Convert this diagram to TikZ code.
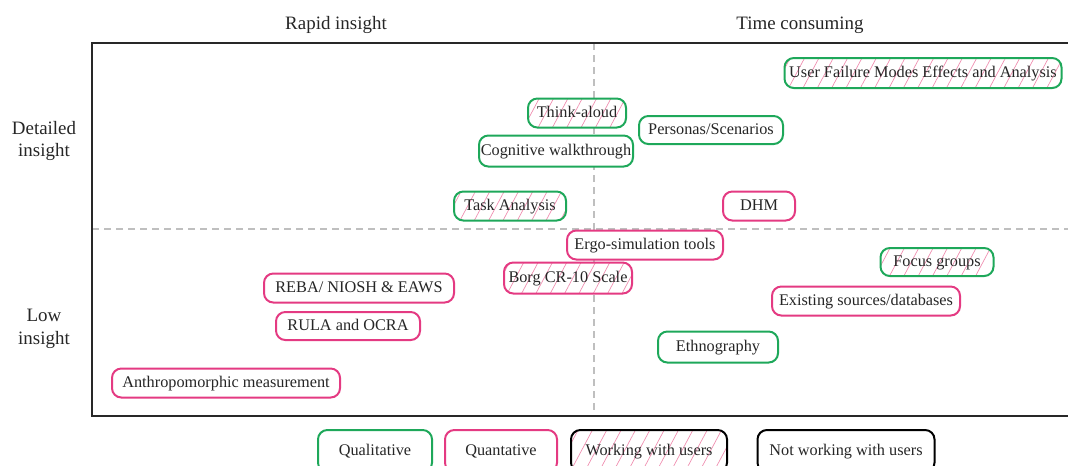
\documentclass[tikz,border=0pt]{standalone}
\usepackage{fontspec}
\setmainfont{Liberation Serif}
\usetikzlibrary{patterns.meta}
\definecolor{qgreen}{RGB}{30,168,90}
\definecolor{qpink}{RGB}{228,58,130}
\definecolor{hpink}{RGB}{240,140,175}
\definecolor{frame}{RGB}{40,40,40}
\begin{document}
\begin{tikzpicture}[x=0.75pt,y=-0.75pt,
  box/.style={draw, fill=white, line width=1.5pt, rounded corners=7pt, inner sep=0pt,
    font=\fontsize{12.2}{14}\selectfont, text=black!85, text height=8.5pt, text depth=2pt},
  sz/.style 2 args={minimum width=#1*0.75pt, minimum height=#2*0.75pt},
  qual/.style={box, draw=qgreen},
  quan/.style={box, draw=qpink},
  plain/.style={box, draw=black},
  hatch/.style={preaction={fill=white}, pattern={Lines[angle=62,distance=9.5pt,line width=0.5pt]}, pattern color=hpink},
  hdr/.style={font=\fontsize{14.2}{17}\selectfont, align=center, text=black!85},
  grid/.style={draw=black!25, dashed, line width=0.8pt, dash pattern=on 5pt off 4pt}
]
\clip (0,0) rectangle (1068,465);
% axes
\coordinate (tl) at (92,43);
\coordinate (bl) at (92,416);
\coordinate (tr) at (1075,43);
\coordinate (br) at (1075,416);
\coordinate (vt) at (594,43);
\coordinate (vb) at (594,416);
\coordinate (hl) at (92,229);
\coordinate (hr) at (1075,229);
\draw[grid] (vt) -- (vb);
\draw[grid] (hl) -- (hr);
\draw[frame, line width=1.6pt] (tr) -- (tl) -- (bl) -- (br);
% headers
\node[hdr] (rapid) at (336,25) {Rapid insight};
\node[hdr] (time) at (800,25) {Time consuming};
\node[hdr] (det) at (44,141) {Detailed\\insight};
\node[hdr] (low) at (44,329) {Low\\insight};
% methods
\node[qual, hatch, sz={277}{30}] (ufmea) at (923,73) {User Failure Modes Effects and Analysis};
\node[qual, hatch, sz={98}{29}] (think) at (577,113) {Think-aloud};
\node[qual, sz={144}{28}] (pers) at (711,130) {Personas/Scenarios};
\node[qual, sz={154}{31}] (cog) at (556,151) {Cognitive walkthrough};
\node[qual, hatch, sz={112}{29}] (task) at (510,206) {Task Analysis};
\node[quan, sz={72}{29}] (dhm) at (759,206) {DHM};
\node[quan, sz={156}{29}] (ergo) at (645,245) {Ergo-simulation tools};
\node[quan, hatch, sz={128}{31}] (borg) at (568,278) {Borg CR-10 Scale};
\node[qual, hatch, sz={113}{28}] (focus) at (937,262) {Focus groups};
\node[quan, sz={190}{29}] (reba) at (359,288) {REBA/ NIOSH \& EAWS};
\node[quan, sz={188}{29}] (exist) at (866,301) {Existing sources/databases};
\node[quan, sz={144}{28}] (rula) at (348,326) {RULA and OCRA};
\node[qual, sz={120}{31}] (ethno) at (718,347) {Ethnography};
\node[quan, sz={228}{29}] (anthro) at (226,383) {Anthropomorphic measurement};
% legend
\node[qual, sz={114}{42}] (lqual) at (375,451) {Qualitative};
\node[quan, sz={112}{42}] (lquan) at (501,451) {Quantative};
\node[plain, hatch, sz={156}{42}] (lwork) at (649,451) {Working with users};
\node[plain, sz={177}{42}] (lnot) at (846,451) {Not working with users};
\end{tikzpicture}
\end{document}
